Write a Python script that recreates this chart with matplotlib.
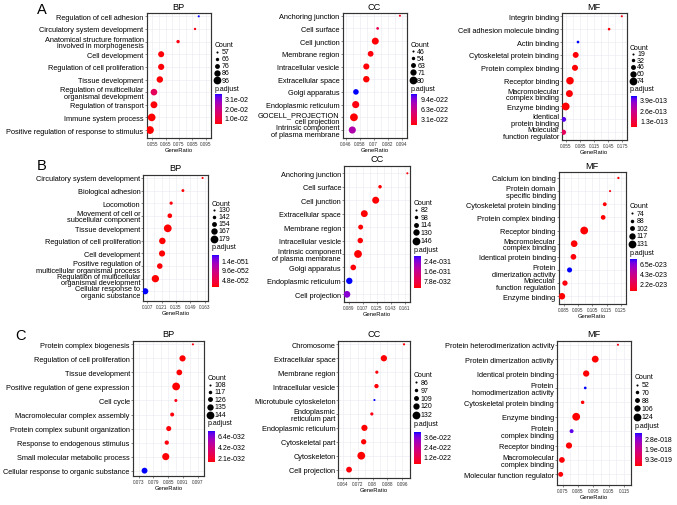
import numpy as np
import matplotlib
matplotlib.use("Agg")
import matplotlib.pyplot as plt
from matplotlib.colors import ListedColormap, Normalize
from matplotlib.cm import ScalarMappable

plt.rcParams['font.family'] = ['Liberation Sans', 'DejaVu Sans']

# ------------------------------------------------------------------ data
a_bp_terms = ["Regulation of cell adhesion", "Circulatory system development",
              "Anatomical structure formation\ninvolved in morphogenesis", "Cell development",
              "Regulation of cell proliferation", "Tissue development",
              "Regulation of multicellular\norganismal development", "Regulation of transport",
              "Immune system process", "Positive regulation of response to stimulus"]
a_bp_ratio = [0.0899, 0.0871, 0.0744, 0.0617, 0.0617, 0.0607, 0.0563, 0.0563, 0.0546, 0.0533]
a_bp_count = [57, 59, 66, 84, 85, 87, 88, 90, 95, 96]
a_bp_padj = [0.0355, 0.0045, 0.0040, 0.0035, 0.0033, 0.0032, 0.0125, 0.0036, 0.0031, 0.0030]
a_bp_breaks = [57, 66, 76, 86, 96]
a_bp_pticks = [0.031, 0.020, 0.010]
a_bp_plabels = ["3.1e-02", "2.0e-02", "1.0e-02"]
a_bp_xticks = [0.055, 0.065, 0.075, 0.085, 0.095]
a_bp_xlabels = ["0.055", "0.065", "0.075", "0.085", "0.095"]

a_cc_terms = ["Anchoring junction", "Cell surface", "Cell junction", "Membrane region",
              "Intracellular vesicle", "Extracellular space", "Golgi apparatus",
              "Endoplasmic reticulum", "GOCELL_PROJECTION\ncell projection",
              "Intrinsic component\nof plasma membrane"]
a_cc_ratio = [0.0925, 0.0734, 0.0714, 0.0674, 0.0637, 0.0637, 0.0548, 0.0546, 0.0531, 0.0517]
a_cc_count = [46, 50, 75, 68, 70, 72, 67, 76, 80, 76]
a_cc_padj = [1.5e-22, 3.4e-22, 1.1e-22, 1.2e-22, 1.1e-22, 1.0e-22, 10.8e-22, 1.3e-22, 1.05e-22, 7.4e-22]
a_cc_breaks = [46, 54, 63, 71, 80]
a_cc_pticks = [9.4e-22, 6.3e-22, 3.1e-22]
a_cc_plabels = ["9.4e-022", "6.3e-022", "3.1e-022"]
a_cc_xticks = [0.046, 0.058, 0.070, 0.082, 0.094]
a_cc_xlabels = ["0.046", "0.058", "0.07", "0.082", "0.094"]

a_mf_terms = ["Integrin binding", "Cell adhesion molecule binding", "Actin binding",
              "Cytoskeletal protein binding", "Protein complex binding", "Receptor binding",
              "Macromolecular\ncomplex binding", "Enzyme binding", "Identical\nprotein binding",
              "Molecular\nfunction regulator"]
a_mf_ratio = [0.1735, 0.1465, 0.0805, 0.0756, 0.0741, 0.0635, 0.0622, 0.0544, 0.0501, 0.0495]
a_mf_count = [19, 24, 25, 56, 57, 72, 66, 74, 46, 50]
a_mf_padj = [0.6e-13, 0.5e-13, 4.36e-13, 0.5e-13, 0.48e-13, 0.46e-13, 0.5e-13, 0.47e-13, 4.1e-13, 1.6e-13]
a_mf_breaks = [19, 32, 46, 60, 74]
a_mf_pticks = [3.9e-13, 2.6e-13, 1.3e-13]
a_mf_plabels = ["3.9e-013", "2.6e-013", "1.3e-013"]
a_mf_xticks = [0.055, 0.085, 0.115, 0.145, 0.175]
a_mf_xlabels = ["0.055", "0.085", "0.115", "0.145", "0.175"]

b_bp_terms = ["Circulatory system development", "Biological adhesion", "Locomotion",
              "Movement of cell or\nsubcellular component", "Tissue development",
              "Regulation of cell proliferation", "Cell development",
              "Positive regulation of\nmulticellular organismal process",
              "Regulation of multicellular\norganismal development",
              "Cellular response to\norganic substance"]
b_bp_ratio = [0.1610, 0.1418, 0.1303, 0.1290, 0.1270, 0.1217, 0.1214, 0.1192, 0.1149, 0.1050]
b_bp_count = [130, 137, 140, 152, 179, 168, 165, 160, 175, 165]
b_bp_padj = [1.5e-52, 1.4e-52, 1.6e-52, 1.4e-52, 1.3e-52, 1.35e-52, 1.4e-52, 1.5e-52, 1.35e-52, 17.0e-52]
b_bp_breaks = [130, 142, 154, 167, 179]
b_bp_pticks = [1.4e-51, 9.6e-52, 4.8e-52]
b_bp_plabels = ["1.4e-051", "9.6e-052", "4.8e-052"]
b_bp_xticks = [0.107, 0.121, 0.135, 0.149, 0.163]
b_bp_xlabels = ["0.107", "0.121", "0.135", "0.149", "0.163"]

b_cc_terms = ["Anchoring junction", "Cell surface", "Cell junction", "Extracellular space",
              "Membrane region", "Intracellular vesicle", "Intrinsic component\nof plasma membrane",
              "Golgi apparatus", "Endoplasmic reticulum", "Cell projection"]
b_cc_ratio = [0.1640, 0.1289, 0.1233, 0.1087, 0.1040, 0.1035, 0.1006, 0.0945, 0.0894, 0.0864]
b_cc_count = [82, 98, 137, 136, 114, 120, 146, 122, 130, 134]
b_cc_padj = [1.5e-32, 1.4e-32, 1.3e-32, 1.2e-32, 1.4e-32, 1.3e-32, 1.25e-32, 1.6e-32, 28.0e-32, 23.0e-32]
b_cc_breaks = [82, 98, 114, 130, 146]
b_cc_pticks = [2.4e-31, 1.6e-31, 7.8e-32]
b_cc_plabels = ["2.4e-031", "1.6e-031", "7.8e-032"]
b_cc_xticks = [0.089, 0.107, 0.125, 0.143, 0.161]
b_cc_xlabels = ["0.089", "0.107", "0.125", "0.143", "0.161"]

b_mf_terms = ["Calcium ion binding", "Protein domain\nspecific binding", "Cytoskeletal protein binding",
              "Protein complex binding", "Receptor binding", "Macromolecular\ncomplex binding",
              "Identical protein binding", "Protein\ndimerization activity",
              "Molecular\nfunction regulation", "Enzyme binding"]
b_mf_ratio = [0.1232, 0.1174, 0.1137, 0.1126, 0.0994, 0.0924, 0.0919, 0.0892, 0.0860, 0.0839]
b_mf_count = [76, 74, 92, 100, 131, 120, 110, 104, 106, 118]
b_mf_padj = [0.5e-23, 0.6e-23, 0.5e-23, 0.45e-23, 0.43e-23, 0.5e-23, 0.55e-23, 7.4e-23, 0.6e-23, 0.45e-23]
b_mf_breaks = [74, 88, 102, 117, 131]
b_mf_pticks = [6.5e-23, 4.3e-23, 2.2e-23]
b_mf_plabels = ["6.5e-023", "4.3e-023", "2.2e-023"]
b_mf_xticks = [0.085, 0.095, 0.105, 0.115, 0.125]
b_mf_xlabels = ["0.085", "0.095", "0.105", "0.115", "0.125"]

c_bp_terms = ["Protein complex biogenesis", "Regulation of cell proliferation", "Tissue development",
              "Positive regulation of gene expression", "Cell cycle",
              "Macromolecular complex assembly", "Protein complex subunit organization",
              "Response to endogenous stimulus", "Small molecular metabolic process",
              "Cellular response to organic substance"]
c_bp_ratio = [0.0950, 0.0908, 0.0895, 0.0882, 0.0881, 0.0866, 0.0852, 0.0844, 0.0840, 0.0754]
c_bp_count = [108, 134, 131, 144, 114, 120, 127, 122, 140, 132]
c_bp_padj = [1.2e-32, 1.1e-32, 1.1e-32, 1.06e-32, 1.3e-32, 1.2e-32, 1.15e-32, 1.2e-32, 1.1e-32, 7.44e-32]
c_bp_breaks = [108, 117, 126, 135, 144]
c_bp_pticks = [6.4e-32, 4.2e-32, 2.1e-32]
c_bp_plabels = ["6.4e-032", "4.2e-032", "2.1e-032"]
c_bp_xticks = [0.073, 0.079, 0.085, 0.091, 0.097]
c_bp_xlabels = ["0.073", "0.079", "0.085", "0.091", "0.097"]

c_cc_terms = ["Chromosome", "Extracellular space", "Membrane region", "Intracellular vesicle",
              "Microtubule cytoskeleton", "Endoplasmic\nreticulum part", "Endoplasmic reticulum",
              "Cytoskeletal part", "Cytoskeleton", "Cell projection"]
c_cc_ratio = [0.0970, 0.0861, 0.0823, 0.0821, 0.0810, 0.0796, 0.0756, 0.0752, 0.0739, 0.0673]
c_cc_count = [87, 120, 95, 104, 86, 95, 119, 112, 132, 116]
c_cc_padj = [0.3e-22, 0.26e-22, 0.3e-22, 0.28e-22, 4.08e-22, 0.35e-22, 0.25e-22, 0.27e-22, 0.24e-22, 0.3e-22]
c_cc_breaks = [86, 97, 109, 120, 132]
c_cc_pticks = [3.6e-22, 2.4e-22, 1.2e-22]
c_cc_plabels = ["3.6e-022", "2.4e-022", "1.2e-022"]
c_cc_xticks = [0.064, 0.072, 0.080, 0.088, 0.096]
c_cc_xlabels = ["0.064", "0.072", "0.08", "0.088", "0.096"]

c_mf_terms = ["Protein heterodimerization activity", "Protein dimerization activity",
              "Identical protein binding", "Protein\nhomodimerization activity",
              "Cytoskeletal protein binding", "Enzyme binding", "Protein\ncomplex binding",
              "Receptor binding", "Macromolecular\ncomplex binding", "Molecular function regulator"]
c_mf_ratio = [0.1111, 0.0963, 0.0904, 0.0898, 0.0881, 0.0839, 0.0809, 0.0792, 0.0746, 0.0738]
c_mf_count = [52, 112, 105, 60, 70, 124, 76, 104, 98, 88]
c_mf_padj = [0.4e-18, 0.32e-18, 0.33e-18, 3.25e-18, 0.35e-18, 0.31e-18, 3.0e-18, 0.33e-18, 0.34e-18, 0.35e-18]
c_mf_breaks = [52, 70, 88, 106, 124]
c_mf_pticks = [2.8e-18, 1.9e-18, 9.3e-19]
c_mf_plabels = ["2.8e-018", "1.9e-018", "9.3e-019"]
c_mf_xticks = [0.075, 0.085, 0.095, 0.105, 0.115]
c_mf_xlabels = ["0.075", "0.085", "0.095", "0.105", "0.115"]

panel_letters = ["A", "B", "C"]

# ------------------------------------------------------------------ layout (pixels)
W, H = 677, 506
layout = {
    'a_bp': dict(rect=(146.5, 14.3, 211.0, 139.0), pad=(0.24, 0.63), xlim=(0.0507, 0.0991), leg=(45.7, 89.3, 95.0, 125.0)),
    'a_cc': dict(rect=(342.5, 14.3, 406.7, 139.0), pad=(0.19, 0.63), xlim=(0.0433, 0.0983), leg=(45.0, 89.0, 95.0, 126.0)),
    'a_mf': dict(rect=(562.0, 14.3, 626.5, 141.0), pad=(0.23, 0.60), xlim=(0.0465, 0.1835), leg=(48.3, 89.3, 97.3, 128.3)),
    'b_bp': dict(rect=(143.3, 175.7, 208.0, 301.7), pad=(0.26, 0.75), xlim=(0.1031, 0.1663), leg=(204.0, 247.7, 255.7, 287.7)),
    'b_cc': dict(rect=(344.0, 166.5, 410.0, 303.0), pad=(0.58, 0.57), xlim=(0.0826, 0.1674), leg=(203.3, 250.0, 256.7, 289.0)),
    'b_mf': dict(rect=(558.5, 173.3, 626.0, 305.0), pad=(0.43, 0.59), xlim=(0.0815, 0.1285), leg=(206.7, 253.3, 260.0, 292.3)),
    'c_bp': dict(rect=(132.7, 341.7, 204.0, 477.0), pad=(0.26, 0.38), xlim=(0.0706, 0.0995), leg=(378.3, 424.0, 431.7, 463.3)),
    'c_cc': dict(rect=(338.3, 341.7, 410.0, 479.0), pad=(0.26, 0.60), xlim=(0.0615, 0.1002), leg=(375.7, 424.3, 433.3, 465.0)),
    'c_mf': dict(rect=(557.0, 341.7, 631.0, 486.0), pad=(0.28, 0.74), xlim=(0.0714, 0.1196), leg=(377.7, 426.7, 434.0, 466.7)),
}
letter_pos = [(42, 10), (41.5, 166), (21, 336)]

panels = {
    'a_bp': (a_bp_terms, a_bp_ratio, a_bp_count, a_bp_padj, a_bp_breaks, a_bp_pticks, a_bp_plabels, a_bp_xticks, a_bp_xlabels),
    'a_cc': (a_cc_terms, a_cc_ratio, a_cc_count, a_cc_padj, a_cc_breaks, a_cc_pticks, a_cc_plabels, a_cc_xticks, a_cc_xlabels),
    'a_mf': (a_mf_terms, a_mf_ratio, a_mf_count, a_mf_padj, a_mf_breaks, a_mf_pticks, a_mf_plabels, a_mf_xticks, a_mf_xlabels),
    'b_bp': (b_bp_terms, b_bp_ratio, b_bp_count, b_bp_padj, b_bp_breaks, b_bp_pticks, b_bp_plabels, b_bp_xticks, b_bp_xlabels),
    'b_cc': (b_cc_terms, b_cc_ratio, b_cc_count, b_cc_padj, b_cc_breaks, b_cc_pticks, b_cc_plabels, b_cc_xticks, b_cc_xlabels),
    'b_mf': (b_mf_terms, b_mf_ratio, b_mf_count, b_mf_padj, b_mf_breaks, b_mf_pticks, b_mf_plabels, b_mf_xticks, b_mf_xlabels),
    'c_bp': (c_bp_terms, c_bp_ratio, c_bp_count, c_bp_padj, c_bp_breaks, c_bp_pticks, c_bp_plabels, c_bp_xticks, c_bp_xlabels),
    'c_cc': (c_cc_terms, c_cc_ratio, c_cc_count, c_cc_padj, c_cc_breaks, c_cc_pticks, c_cc_plabels, c_cc_xticks, c_cc_xlabels),
    'c_mf': (c_mf_terms, c_mf_ratio, c_mf_count, c_mf_padj, c_mf_breaks, c_mf_pticks, c_mf_plabels, c_mf_xticks, c_mf_xlabels),
}


# ------------------------------------------------------------------ colour map (Lab red -> blue, like ggplot)
_M = np.array([[0.4124, 0.3576, 0.1805], [0.2126, 0.7152, 0.0722], [0.0193, 0.1192, 0.9505]])
_WP = np.array([0.95047, 1.0, 1.08883])


def _srgb_to_lab(rgb):
    c = np.asarray(rgb, float)
    lin = np.where(c <= 0.04045, c / 12.92, ((c + 0.055) / 1.055) ** 2.4)
    xyz = _M @ lin / _WP
    d = 6 / 29
    f = np.where(xyz > d ** 3, np.cbrt(xyz), xyz / (3 * d * d) + 4 / 29)
    return np.array([116 * f[1] - 16, 500 * (f[0] - f[1]), 200 * (f[1] - f[2])])


def _lab_to_srgb(lab):
    L, a, b = lab
    fy = (L + 16) / 116
    fx, fz = fy + a / 500, fy - b / 200
    d = 6 / 29
    fi = lambda t: t ** 3 if t > d else 3 * d * d * (t - 4 / 29)
    xyz = np.array([fi(fx), fi(fy), fi(fz)]) * _WP
    lin = np.clip(np.linalg.inv(_M) @ xyz, 0, 1)
    return np.where(lin <= 0.0031308, 12.92 * lin, 1.055 * lin ** (1 / 2.4) - 0.055).clip(0, 1)


lab_r, lab_b = _srgb_to_lab([1, 0, 0]), _srgb_to_lab([0, 0, 1])
cmap = ListedColormap([_lab_to_srgb(lab_r + t * (lab_b - lab_r)) for t in np.linspace(0, 1, 256)])

D_MIN, D_MAX = 1.5, 5.6


def size_of(c, cmin, cmax):
    f = (np.asarray(c, float) - cmin) / (cmax - cmin)
    return (D_MIN + f * (D_MAX - D_MIN)) ** 2


def px_rect(l, t, r, b):
    return [l / W, 1 - b / H, (r - l) / W, (b - t) / H]


fig = plt.figure(figsize=(W / 100, H / 100), dpi=100)
ov = fig.add_axes([0, 0, 1, 1])
ov.set_xlim(0, W)
ov.set_ylim(H, 0)
ov.axis('off')

GRID = '#EAEAF2'
for key, (terms, ratio, count, padj, breaks, pticks, plabels, xticks, xlabels) in panels.items():
    lay = layout[key]
    l, t, r, b = lay['rect']
    ax = fig.add_axes(px_rect(l, t, r, b))
    n = len(terms)
    ypos = np.arange(n)
    cmin, cmax = min(count), max(count)
    norm = Normalize(vmin=min(padj), vmax=max(padj))
    ax.scatter(ratio, ypos, s=size_of(count, cmin, cmax), c=padj, cmap=cmap, norm=norm,
               linewidths=0, zorder=3)
    ax.set_ylim(n - 1 + lay['pad'][1], -lay['pad'][0])
    ax.set_xlim(*lay['xlim'])
    ax.set_yticks(ypos)
    ax.set_yticklabels(terms, fontsize=5.3, linespacing=0.92)
    ax.set_xticks(xticks)
    ax.set_xticklabels(xlabels, fontsize=3.3, color='#333333')
    step = xticks[1] - xticks[0]
    minors = [xticks[0] - step / 2] + [x + step / 2 for x in xticks]
    minors = [m for m in minors if lay['xlim'][0] <= m <= lay['xlim'][1]]
    ax.set_xticks(minors, minor=True)
    ax.tick_params(axis='both', which='major', length=1.3, width=0.4, pad=0.8, color='#333333')
    ax.tick_params(axis='x', which='minor', length=0)
    ax.grid(True, which='both', color=GRID, lw=0.4, zorder=0)
    ax.set_axisbelow(True)
    for sp in ax.spines.values():
        sp.set_color('#333333')
        sp.set_linewidth(0.85)
    ax.set_xlabel('GeneRatio', fontsize=4.2, labelpad=0.8)
    ax.text(0.5, 1.0 + 7.0 / (b - t), key[2:].upper(),
            transform=ax.transAxes, ha='center', va='center', fontsize=6.6)

    # legend
    x0 = r + 3.5
    cy, py, cbt, cbb = lay['leg']
    ov.text(x0, cy, 'Count', fontsize=5, ha='left', va='center')
    fr = [0.16, 0.32, 0.48, 0.64, 0.82]
    for f, br in zip(fr, breaks):
        yy = cy + f * (py - cy)
        ov.scatter([x0 + 2.8], [yy], s=size_of(br, cmin, cmax), color='black', linewidths=0)
        ov.text(x0 + 7.0, yy, str(br), fontsize=5, ha='left', va='center')
    ov.text(x0, py, 'p.adjust', fontsize=5, ha='left', va='center')
    cax = fig.add_axes(px_rect(x0 + 0.5, cbt, x0 + 7.2, cbb))
    cb = fig.colorbar(ScalarMappable(norm=norm, cmap=cmap), cax=cax)
    cb.outline.set_visible(False)
    cb.set_ticks(pticks)
    cb.set_ticklabels(plabels)
    cax.tick_params(length=0, labelsize=5, pad=2)

for letter, (lx, ly) in zip(panel_letters, letter_pos):
    ov.text(lx, ly, letter, fontsize=10.5, ha='center', va='center')

fig.savefig('out.png', dpi=100)
